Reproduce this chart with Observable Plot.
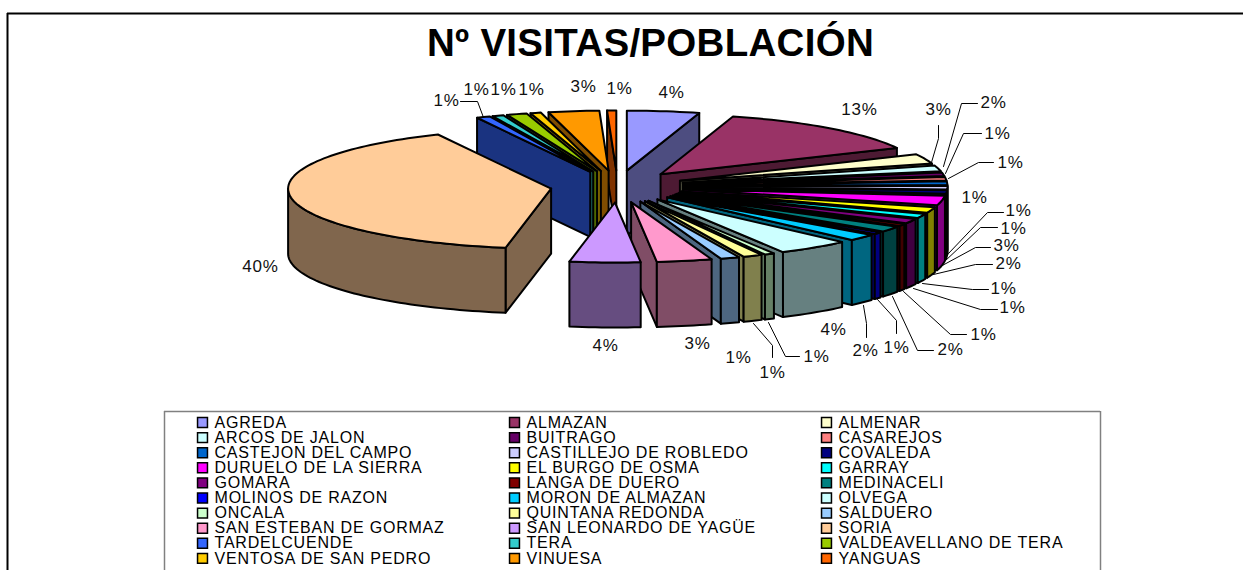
<!DOCTYPE html>
<html><head><meta charset="utf-8">
<script src="https://cdn.jsdelivr.net/npm/d3@7"></script>
<script src="https://cdn.jsdelivr.net/npm/@observablehq/plot@0.6"></script>
<style>html,body{margin:0;padding:0;background:#fff;overflow:hidden}svg{display:block}
.legend-text{letter-spacing:.8px}.pct-text{letter-spacing:.8px}.title-text{letter-spacing:.3px}</style>
</head><body><div id="chart"></div>
<script>
const names = ["AGREDA","ALMAZAN","ALMENAR","ARCOS DE JALON","BUITRAGO","CASAREJOS","CASTEJON DEL CAMPO","CASTILLEJO DE ROBLEDO","COVALEDA","DURUELO DE LA SIERRA","EL BURGO DE OSMA","GARRAY","GOMARA","LANGA DE DUERO","MEDINACELI","MOLINOS DE RAZON","MORON DE ALMAZAN","OLVEGA","ONCALA","QUINTANA REDONDA","SALDUERO","SAN ESTEBAN DE GORMAZ","SAN LEONARDO DE YAGÜE","SORIA","TARDELCUENDE","TERA","VALDEAVELLANO DE TERA","VENTOSA DE SAN PEDRO","VINUESA","YANGUAS"];
const shares = [4.44,13.33,2.61,1.56,0.94,0.94,0.94,0.94,0.94,2.61,1.5,1.17,1.25,0.56,1.53,0.56,1.78,4.47,0.61,1.19,1.17,3.39,4.33,40.14,0.83,0.69,1.25,0.64,3.11,0.56];
const colors = ["#9999FF","#993366","#FFFFCC","#CCFFFF","#660066","#FF8080","#0066CC","#CCCCFF","#000080","#FF00FF","#FFFF00","#00FFFF","#800080","#800000","#008080","#0000FF","#00CCFF","#CCFFFF","#CCFFCC","#FFFF99","#99CCFF","#FF99CC","#CC99FF","#FFCC99","#3366FF","#33CCCC","#99CC00","#FFCC00","#FF9900","#FF6600"];
const labelX = [671,859,938,993,997,1010,974,1018,1013,1006,1008,1003,1012,983,950,896,865,833,816,772,738,697,605,260,446,476,503,531,583,619];
const labelY = [92,109,109,102,133,162,197,210,228,245,263,288,307,334,349,347,350,329,356,372,357,343,345,266,100,89,89,89,86,88];
const leaderPaths = {
  "ALMENAR":[[938,125],[938,138],[931,162]],
  "ARCOS DE JALON":[[977,103],[961,103],[943,166]],
  "BUITRAGO":[[981,133],[963,133],[945,173]],
  "CASAREJOS":[[993,162],[978,162],[948,178]],
  "CASTILLEJO DE ROBLEDO":[[1003,212],[987,212],[948,253]],
  "COVALEDA":[[997,227],[980,227],[943,262]],
  "DURUELO DE LA SIERRA":[[990,247],[975,247],[940,266]],
  "EL BURGO DE OSMA":[[992,264],[975,264],[933,274]],
  "GARRAY":[[988,289],[972,289],[922,283]],
  "GOMARA":[[997,309],[980,309],[913,288]],
  "LANGA DE DUERO":[[966,334],[950,334],[903,291]],
  "MEDINACELI":[[933,350],[917,350],[892,296]],
  "MOLINOS DE RAZON":[[896,333],[896,320],[877,299]],
  "MORON DE ALMAZAN":[[866,337],[866,323],[863,305]],
  "ONCALA":[[799,356],[785,356],[768,322]],
  "QUINTANA REDONDA":[[772,357],[772,345],[753,323]],
  "TARDELCUENDE":[[460,101],[477,101],[483,117]]
};
const title = "Nº VISITAS/POBLACIÓN";

// Pie geometry
const W = 1243, H = 570;
const cx = 617, cy = 186, rx = 263, ry = 60, depth = 65, ex = 67, ey = 16;
const total = d3.sum(shares);
let acc = 0;
const slices = names.map((name,i)=>{
  const a0 = acc/total*360; acc += shares[i]; const a1 = acc/total*360;
  const mid = (a0+a1)/2*Math.PI/180;
  return {name,i,a0,a1,mid,ax:cx+ex*Math.sin(mid),ay:cy-ey*Math.cos(mid),color:colors[i]};
});
function half(c){const r=d3.rgb(c);return d3.rgb(r.r*.5,r.g*.5,r.b*.5).formatHex();}
const sin=a=>Math.sin(a*Math.PI/180), cos=a=>Math.cos(a*Math.PI/180);
function rim(s,a,dz=0){return [s.ax+rx*sin(a),s.ay-ry*cos(a)+dz];}
function arc(s,a0,a1,dz=0){const n=Math.max(1,Math.ceil(Math.abs(a1-a0)/1.5));return d3.range(n+1).map(k=>rim(s,a0+(a1-a0)*k/n,dz));}
const polys=[];
function add(pts,fill){polys.push({pts:[...pts,pts[0]],fill});}
[...slices].sort((p,q)=>Math.cos(q.mid)-Math.cos(p.mid)).forEach(s=>{
  const wall=half(s.color);
  const radial=a=>[[s.ax,s.ay],rim(s,a),rim(s,a,depth),[s.ax,s.ay+depth]];
  if(sin(s.a0)<0) add(radial(s.a0),wall);
  if(sin(s.a1)>0) add(radial(s.a1),wall);
  const lo=Math.max(s.a0,90), hi=Math.min(s.a1,270);
  if(hi>lo) add([...arc(s,lo,hi),...arc(s,hi,lo,depth)],wall);
  add([[s.ax,s.ay],...arc(s,s.a0,s.a1)],s.color);
});
const polyRows=polys.flatMap((p,id)=>p.pts.map(([x,y])=>({x,y,id,fill:p.fill})));
const leaderRows=Object.entries(leaderPaths).flatMap(([name,pts])=>pts.map(([x,y])=>({x,y,name})));
const labelRows=slices.map((s,i)=>({x:labelX[i],y:labelY[i],text:Math.round(shares[i])+"%"}));
const legendRows=names.map((name,i)=>({name,color:colors[i],col:i%3,row:Math.floor(i/3)}));
const colX=[197,509,821], rowY=r=>422+r*15.1;
const font="Liberation Sans";

const chart=Plot.plot({
  width:W,height:H,margin:0,
  x:{domain:[0,W],range:[0,W],axis:null},
  y:{domain:[0,H],range:[0,H],axis:null},
  color:{type:"identity"},
  style:{background:"#fff"},
  marks:[
    Plot.ruleY([13],{x1:7,x2:W,stroke:"#000",strokeWidth:2}),
    Plot.ruleX([7],{y1:13,y2:H,stroke:"#000",strokeWidth:2}),
    Plot.line(polyRows,{x:"x",y:"y",z:"id",fill:"fill",stroke:"#000",strokeWidth:2,strokeLinejoin:"round"}),
    Plot.line(leaderRows,{x:"x",y:"y",z:"name",stroke:"#000",strokeWidth:1}),
    Plot.text(labelRows,{x:"x",y:"y",text:"text",fontFamily:font,fontSize:17,fill:"#111",className:"pct-text"}),
    Plot.text([title],{x:()=>650,y:()=>43,text:d=>d,fontFamily:font,fontSize:38.5,fontWeight:"bold",fill:"#000",className:"title-text"}),
    Plot.ruleY([411],{x1:164,x2:1100,stroke:"#808080",strokeWidth:1.5}),
    Plot.ruleX([164,1100],{y1:411,y2:H,stroke:"#808080",strokeWidth:1.5}),
    Plot.dot(legendRows,{x:d=>colX[d.col]+5,y:d=>rowY(d.row),symbol:"square",r:5.6,fill:"color",stroke:"#000",strokeWidth:1.5}),
    Plot.text(legendRows,{x:d=>colX[d.col]+17,y:d=>rowY(d.row),text:"name",textAnchor:"start",fontFamily:font,fontSize:16,fill:"#000",className:"legend-text"})
  ]
});
document.getElementById("chart").appendChild(chart);
</script></body></html>
